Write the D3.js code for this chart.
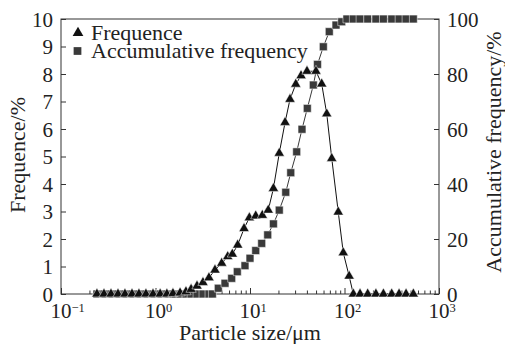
<!DOCTYPE html>
<html>
<head>
<meta charset="utf-8">
<script src="https://cdn.jsdelivr.net/npm/d3@7"></script>
<style>
  body { margin: 0; background: #fff; }
  svg text { font-family: "Liberation Serif", "Times New Roman", serif; fill: #222; }
</style>
</head>
<body>
<div id="chart"></div>
<script>
// Particle size distribution - frequence (left axis) and accumulative frequency (right axis)

// particle size (um) and frequence (%)
const freqSize = [0.240, 0.285, 0.338, 0.401, 0.475, 0.564, 0.668, 0.792, 0.941, 1.12,
    1.32, 1.53, 1.82, 2.10, 2.38, 2.75, 3.18, 3.68, 4.26, 5.02,
    5.81, 6.50, 7.41, 8.65, 9.84, 11.5, 13.5, 15.6, 17.7, 20.4,
    23.5, 26.5, 30.5, 34.7, 40.1, 49.9, 57.4, 64.9, 73.3, 85.9,
    97.1, 112, 124, 146, 176, 215, 258, 316, 378, 448, 535];
const freqValue = [0, 0, 0, 0, 0, 0, 0, 0, 0, 0,
    0, 0.02, 0.04, 0.08, 0.17, 0.29, 0.42, 0.59, 0.87, 1.12,
    1.36, 1.45, 1.78, 2.38, 2.77, 2.84, 2.86, 3.05, 3.84, 5.12,
    6.24, 7.08, 7.63, 7.94, 8.10, 8.10, 7.64, 6.55, 4.93, 2.98,
    1.50, 0.65, 0, 0, 0, 0, 0, 0, 0, 0, 0];

// particle size (um) and accumulative frequency (%)
const cumSize = [0.240, 0.285, 0.338, 0.401, 0.475, 0.564, 0.668, 0.792, 0.941, 1.12,
    1.32, 1.53, 1.82, 2.10, 2.38, 2.75, 3.18, 3.68, 4.00, 4.62,
    5.44, 6.40, 7.34, 8.85, 10.0, 11.5, 13.3, 15.4, 17.7, 20.4,
    23.9, 27.0, 31.2, 35.5, 40.4, 46.8, 51.8, 59.7, 69.0, 81.3,
    93.4, 106, 124, 146, 176, 215, 258, 316, 378, 448, 535];
const cumValue = [0, 0, 0, 0, 0, 0, 0, 0, 0, 0,
    0, 0, 0, 0, 0, 0, 0, 0, 0, 2.1,
    3.9, 5.7, 8.1, 10.3, 13.0, 15.8, 18.4, 21.5, 25.5, 30.5,
    37.0, 44.1, 51.7, 59.9, 67.5, 76.0, 83.5, 89.9, 95.4, 97.8,
    99.0, 100, 100, 100, 100, 100, 100, 100, 100, 100, 100];

// axis ticks
const xDecades = [-1, 0, 1, 2, 3];
const leftTicks = [0, 1, 2, 3, 4, 5, 6, 7, 8, 9, 10];
const rightTicks = [0, 20, 40, 60, 80, 100];

const W = 505, H = 344;
const plot = { left: 61, right: 439, top: 19, bottom: 294 };

const svg = d3.select('#chart')
    .append('svg')
    .attr('width', W)
    .attr('height', H);

const x = d3.scaleLog()
    .domain([0.1, 1000])
    .range([plot.left, plot.right]);

const yL = d3.scaleLinear()
    .domain([0, 10])
    .range([plot.bottom, plot.top]);

const yR = d3.scaleLinear()
    .domain([0, 100])
    .range([plot.bottom, plot.top]);

const axisColor = '#333';

// Bottom axis with log minor ticks pointing inward
const majorVals = xDecades.map(e => Math.pow(10, e));
const isMajor = v => majorVals.some(m => Math.abs(m - v) / m < 1e-6);

const gx = svg.append('g')
    .attr('transform', `translate(0,${plot.bottom})`)
    .call(d3.axisBottom(x)
        .tickValues(x.ticks())
        .tickSize(-3.5)
        .tickSizeOuter(0)
        .tickFormat(''));
gx.selectAll('.tick line')
    .attr('y2', d => isMajor(d) ? -6 : -3.5);

// Left axis
const gl = svg.append('g')
    .attr('transform', `translate(${plot.left},0)`)
    .call(d3.axisLeft(yL)
        .tickValues(leftTicks)
        .tickSize(-5)
        .tickSizeOuter(0)
        .tickPadding(8));

// Right axis
const gr = svg.append('g')
    .attr('transform', `translate(${plot.right},0)`)
    .call(d3.axisRight(yR)
        .tickValues(rightTicks)
        .tickSize(-5)
        .tickSizeOuter(0)
        .tickPadding(8));

[gx, gl, gr].forEach(g => {
    g.select('.domain').remove();
    g.selectAll('.tick line').attr('stroke', axisColor);
    g.selectAll('.tick text')
        .attr('fill', '#222')
        .style('font-family', '"Liberation Serif", serif')
        .style('font-size', '21px');
});
gl.selectAll('.tick text').attr('dy', '0.34em');
gr.selectAll('.tick text').attr('dy', '0.34em');

// Frame
svg.append('rect')
    .attr('x', plot.left)
    .attr('y', plot.top)
    .attr('width', plot.right - plot.left)
    .attr('height', plot.bottom - plot.top)
    .attr('fill', 'none')
    .attr('stroke', axisColor)
    .attr('stroke-width', 1);

// X tick labels as 10^n
const xl = svg.append('g');
xDecades.forEach(e => {
    const px = x(Math.pow(10, e));
    xl.append('text')
        .attr('x', px)
        .attr('y', 318)
        .attr('text-anchor', 'middle')
        .style('font-size', '21px')
        .text('10');
    xl.append('text')
        .attr('x', px + 10.5)
        .attr('y', 311.5)
        .attr('text-anchor', 'start')
        .style('font-size', '12.5px')
        .text(e < 0 ? '\u2212' + Math.abs(e) : String(e));
});

// Axis titles
svg.append('text')
    .attr('x', (plot.left + plot.right) / 2)
    .attr('y', 340)
    .attr('text-anchor', 'middle')
    .style('font-size', '22px')
    .text('Particle size/\u03bcm');

svg.append('text')
    .attr('transform', 'translate(25,155) rotate(-90)')
    .attr('text-anchor', 'middle')
    .style('font-size', '22px')
    .text('Frequence/%');

svg.append('text')
    .attr('transform', 'translate(500.5,152) rotate(-90)')
    .attr('text-anchor', 'middle')
    .style('font-size', '22px')
    .text('Accumulative frequency/%');

// Series
const cumData = cumSize.map((s, i) => ({ s, v: cumValue[i] }));
const freqData = freqSize.map((s, i) => ({ s, v: freqValue[i] }));

const cumColor = '#3a3a3a';
const freqColor = '#111';

svg.append('path')
    .datum(cumData)
    .attr('fill', 'none')
    .attr('stroke', cumColor)
    .attr('stroke-width', 1)
    .attr('d', d3.line().x(d => x(d.s)).y(d => yR(d.v)));

svg.append('g')
    .selectAll('path')
    .data(cumData)
    .enter()
    .append('path')
    .attr('transform', d => `translate(${x(d.s)},${yR(d.v)})`)
    .attr('d', d3.symbol(d3.symbolSquare, 62))
    .attr('fill', cumColor)
    .attr('stroke', '#fff')
    .attr('stroke-width', 0.5);

svg.append('path')
    .datum(freqData)
    .attr('fill', 'none')
    .attr('stroke', freqColor)
    .attr('stroke-width', 1)
    .attr('d', d3.line().x(d => x(d.s)).y(d => yL(d.v)));

svg.append('g')
    .selectAll('path')
    .data(freqData)
    .enter()
    .append('path')
    .attr('transform', d => `translate(${x(d.s)},${yL(d.v)})`)
    .attr('d', d3.symbol(d3.symbolTriangle, 46))
    .attr('fill', freqColor)
    .attr('stroke', '#fff')
    .attr('stroke-width', 0.5);

// Legend
const legend = svg.append('g');
legend.append('path')
    .attr('transform', 'translate(78,33)')
    .attr('d', d3.symbol(d3.symbolTriangle, 50))
    .attr('fill', freqColor);
legend.append('text')
    .attr('x', 91)
    .attr('y', 40)
    .style('font-size', '22px')
    .text('Frequence');
legend.append('path')
    .attr('transform', 'translate(77.5,51)')
    .attr('d', d3.symbol(d3.symbolSquare, 60))
    .attr('fill', cumColor);
legend.append('text')
    .attr('x', 91)
    .attr('y', 58)
    .style('font-size', '22px')
    .text('Accumulative frequency');
</script>
</body>
</html>
